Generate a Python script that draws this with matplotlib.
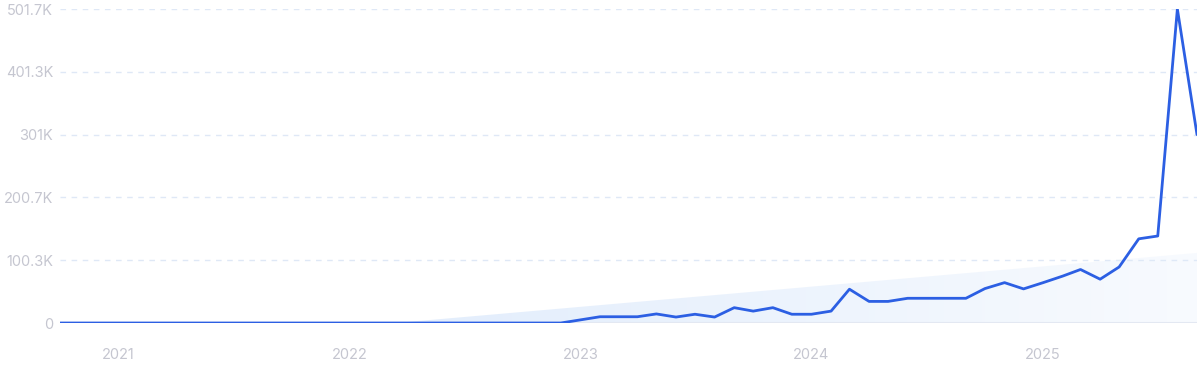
import numpy as np
import pandas as pd
import matplotlib
matplotlib.use("Agg")
import matplotlib.pyplot as plt
import matplotlib.dates as mdates
from matplotlib.patches import Polygon

plt.rcParams['font.family'] = ['Inter', 'DejaVu Sans']

# monthly values, Oct 2020 .. Sep 2025
months = pd.date_range("2020-10-01", "2025-09-01", freq="MS")
values = [0] * 26 + [
    0, 5000, 10000, 10000, 10000, 14500, 9500, 14000, 9500, 24500,
    19000, 24500, 14000, 14000, 19000, 54000, 34500, 34500, 39500, 39500,
    39500, 39500, 55000, 64500, 54500, 64500, 75000, 85500, 70000, 89500,
    134500, 139000, 501650, 301000,
]

# light trend band under the line
trend_dates = ["2022-03-15", "2025-09-01"]
trend_values = [0, 112000]

y_max = 501650
y_ticklabels = ["0", "100.3K", "200.7K", "301K", "401.3K", "501.7K"]
year_ticks = ["2021", "2022", "2023", "2024", "2025"]

line_color = "#2c5fe3"
label_color = "#c5c6d0"

fig = plt.figure(figsize=(12, 3.72), dpi=100)
ax = fig.add_axes([0.05, 0.1317, 0.9475, 0.8441])

x = mdates.date2num(months)
tx = mdates.date2num(pd.to_datetime(trend_dates))

# gradient filled trend area
poly = Polygon([(tx[0], 0), (tx[1], trend_values[1]), (tx[1], 0)],
               closed=True, facecolor="none", edgecolor="none")
ax.add_patch(poly)
grad = np.linspace(0, 1, 256)
alpha = np.clip(1.0 - 0.75 * grad, 0, 1)
rgba = np.zeros((1, 256, 4))
rgba[..., 0] = 0.89
rgba[..., 1] = 0.93
rgba[..., 2] = 0.99
rgba[..., 3] = alpha
img = ax.imshow(rgba, extent=[tx[0], tx[1], 0, trend_values[1]],
                aspect="auto", origin="lower", zorder=1)
img.set_clip_path(poly)

# grid
for k in range(1, 6):
    ax.axhline(y_max * k / 5, color="#dfe8f6", lw=1, ls=(0, (4, 4)), zorder=0)
ax.axhline(0, color="#e3e8f2", lw=1.5, zorder=1)

ax.plot(x, values, color=line_color, lw=2.0, zorder=3,
        solid_joinstyle="round", solid_capstyle="round")

ax.set_xlim(x[0], x[-1])
ax.set_ylim(0, y_max)
ax.set_yticks([y_max * k / 5 for k in range(6)])
ax.set_yticklabels(y_ticklabels)
ax.set_xticks(mdates.date2num(pd.to_datetime([y + "-01-01" for y in year_ticks])))
ax.set_xticklabels(year_ticks)
ax.tick_params(axis="both", length=0, labelcolor=label_color, labelsize=10.5)
ax.tick_params(axis="y", pad=5)
ax.tick_params(axis="x", pad=18)
for s in ax.spines.values():
    s.set_visible(False)

fig.savefig("out.png", dpi=100)
